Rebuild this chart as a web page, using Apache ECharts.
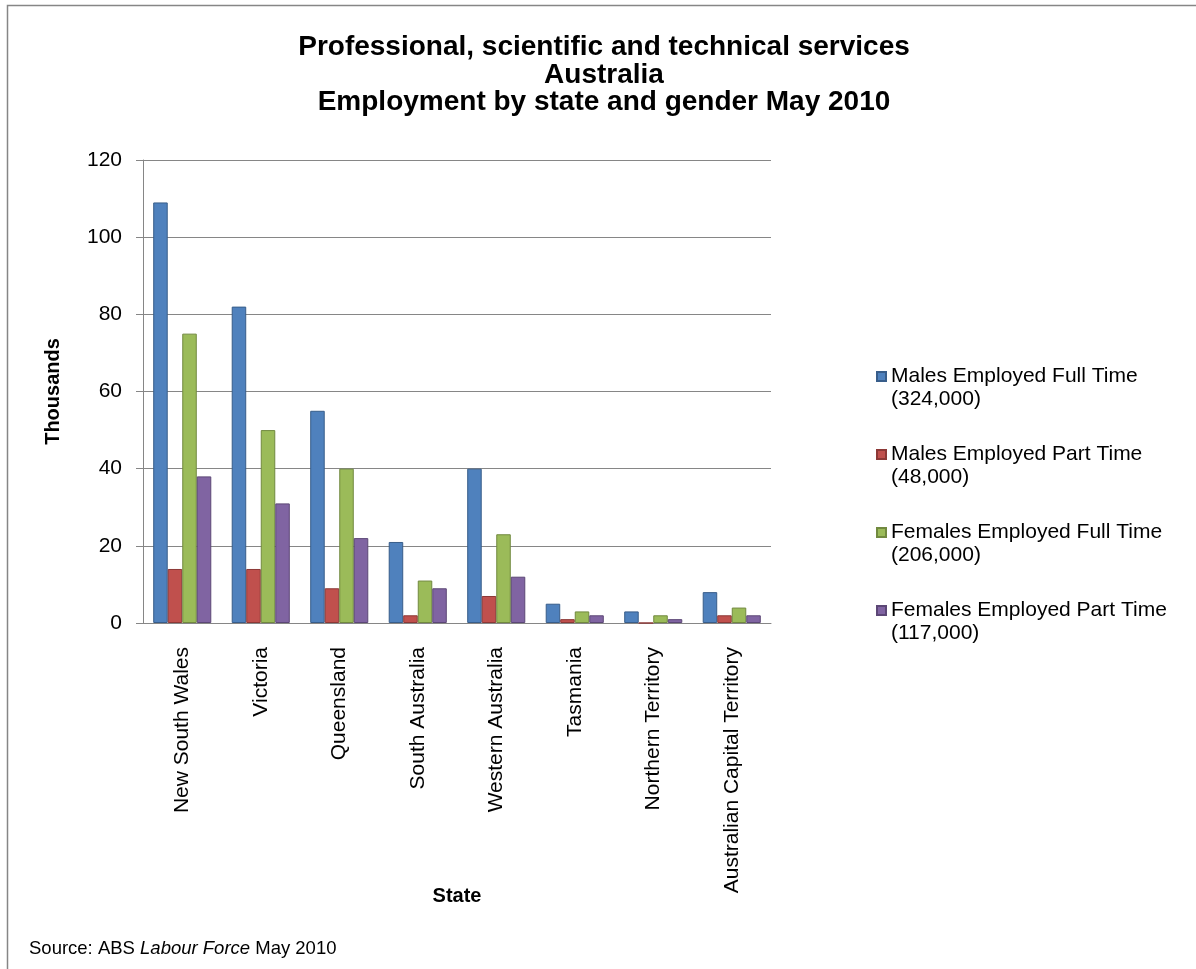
<!DOCTYPE html>
<html>
<head>
<meta charset="utf-8">
<script src="https://cdn.jsdelivr.net/npm/echarts@6/dist/echarts.min.js"></script>
<style>
  html, body { margin: 0; padding: 0; background: #fff; }
  #chart { width: 1196px; height: 969px; }
</style>
</head>
<body>
<div id="chart"></div>
<script>
// Employment by state and gender, thousands of persons
const states = [
  'New South Wales', 'Victoria', 'Queensland', 'South Australia',
  'Western Australia', 'Tasmania', 'Northern Territory', 'Australian Capital Territory'
];
const seriesNames = [
  'Males Employed Full Time',
  'Males Employed Part Time',
  'Females Employed Full Time',
  'Females Employed Part Time'
];
const seriesTotals = ['(324,000)', '(48,000)', '(206,000)', '(117,000)'];
const malesFullTime   = [109, 82, 55, 21, 40, 5, 3, 8];
const malesPartTime   = [14, 14, 9, 2, 7, 1, 0, 2];
const femalesFullTime = [75, 50, 40, 11, 23, 3, 2, 4];
const femalesPartTime = [38, 31, 22, 9, 12, 2, 1, 2];
const yTicks = { min: 0, max: 120, interval: 20 };

const FONT = '"Liberation Sans", Arial, Helvetica, sans-serif';
const fills   = ['#4F81BD', '#C0504D', '#9BBB59', '#8064A2'];
const borders = ['#385D8A', '#8C3836', '#71893F', '#5C4776'];
const seriesValues = [malesFullTime, malesPartTime, femalesFullTime, femalesPartTime];

const chart = echarts.init(document.getElementById('chart'), null, { renderer: 'canvas' });

chart.setOption({
  animation: false,
  backgroundColor: '#fff',
  title: {
    text: 'Professional, scientific and technical services\nAustralia\nEmployment by state and gender May 2010',
    left: 599,
    top: 29,
    textAlign: 'center',
    textStyle: {
      fontFamily: FONT,
      fontSize: 28,
      fontWeight: 'bold',
      lineHeight: 27.5,
      color: '#000'
    }
  },
  legend: {
    orient: 'vertical',
    left: 876,
    top: 365,
    padding: 0,
    itemWidth: 9,
    itemHeight: 32,
    itemGap: 32,
    // square sits at the top of a taller box so it lines up with the first text line
    icon: 'path://M0,0L9,0L9,9L0,9Z M0,32',
    data: seriesNames,
    formatter: function (name) {
      return name + '\n' + seriesTotals[seriesNames.indexOf(name)];
    },
    textStyle: {
      fontFamily: FONT,
      fontSize: 21,
      lineHeight: 23,
      color: '#000'
    }
  },
  grid: {
    left: 143,
    top: 160,
    width: 628,
    height: 463,
    containLabel: false
  },
  xAxis: {
    type: 'category',
    data: states,
    name: 'State',
    nameLocation: 'middle',
    nameGap: 263,
    nameMoveOverlap: false,
    nameTextStyle: {
      fontFamily: FONT,
      fontSize: 20,
      fontWeight: 'bold',
      color: '#000',
      verticalAlign: 'top'
    },
    axisLine: { lineStyle: { color: '#868686', width: 1 } },
    axisTick: { show: false },
    axisLabel: {
      rotate: 90,
      margin: 24,
      interval: 0,
      fontFamily: FONT,
      fontSize: 21,
      color: '#000'
    }
  },
  yAxis: {
    type: 'value',
    min: yTicks.min,
    max: yTicks.max,
    interval: yTicks.interval,
    name: 'Thousands',
    nameLocation: 'middle',
    nameRotate: 90,
    nameGap: 80,
    nameMoveOverlap: false,
    nameTextStyle: {
      fontFamily: FONT,
      fontSize: 20,
      fontWeight: 'bold',
      color: '#000'
    },
    axisLine: { show: true, lineStyle: { color: '#868686', width: 1 } },
    axisTick: { show: true, length: 7, lineStyle: { color: '#868686' } },
    axisLabel: {
      margin: 21,
      fontFamily: FONT,
      fontSize: 21,
      color: '#000'
    },
    splitLine: { show: true, lineStyle: { color: '#868686', width: 1 } }
  },
  series: seriesNames.map(function (name, i) {
    return {
      name: name,
      type: 'bar',
      data: seriesValues[i],
      barGap: '0%',
      barCategoryGap: '26%',
      itemStyle: {
        color: fills[i],
        borderColor: borders[i],
        borderWidth: 1
      },
      emphasis: { disabled: true }
    };
  }),
  graphic: [
    {
      type: 'rect',
      shape: { x: 7.5, y: 5.5, width: 1300, height: 1100 },
      style: { fill: 'none', stroke: '#868686', lineWidth: 1.5 },
      silent: true
    },
    {
      type: 'text',
      left: 29,
      top: 939,
      style: {
        text: '{r|Source: ABS }{i|Labour Force}{r| May 2010}',
        rich: {
          r: { fontFamily: FONT, fontSize: 18.5, color: '#000' },
          i: { fontFamily: FONT, fontSize: 18.5, fontStyle: 'italic', color: '#000' }
        }
      }
    }
  ]
});
</script>
</body>
</html>
